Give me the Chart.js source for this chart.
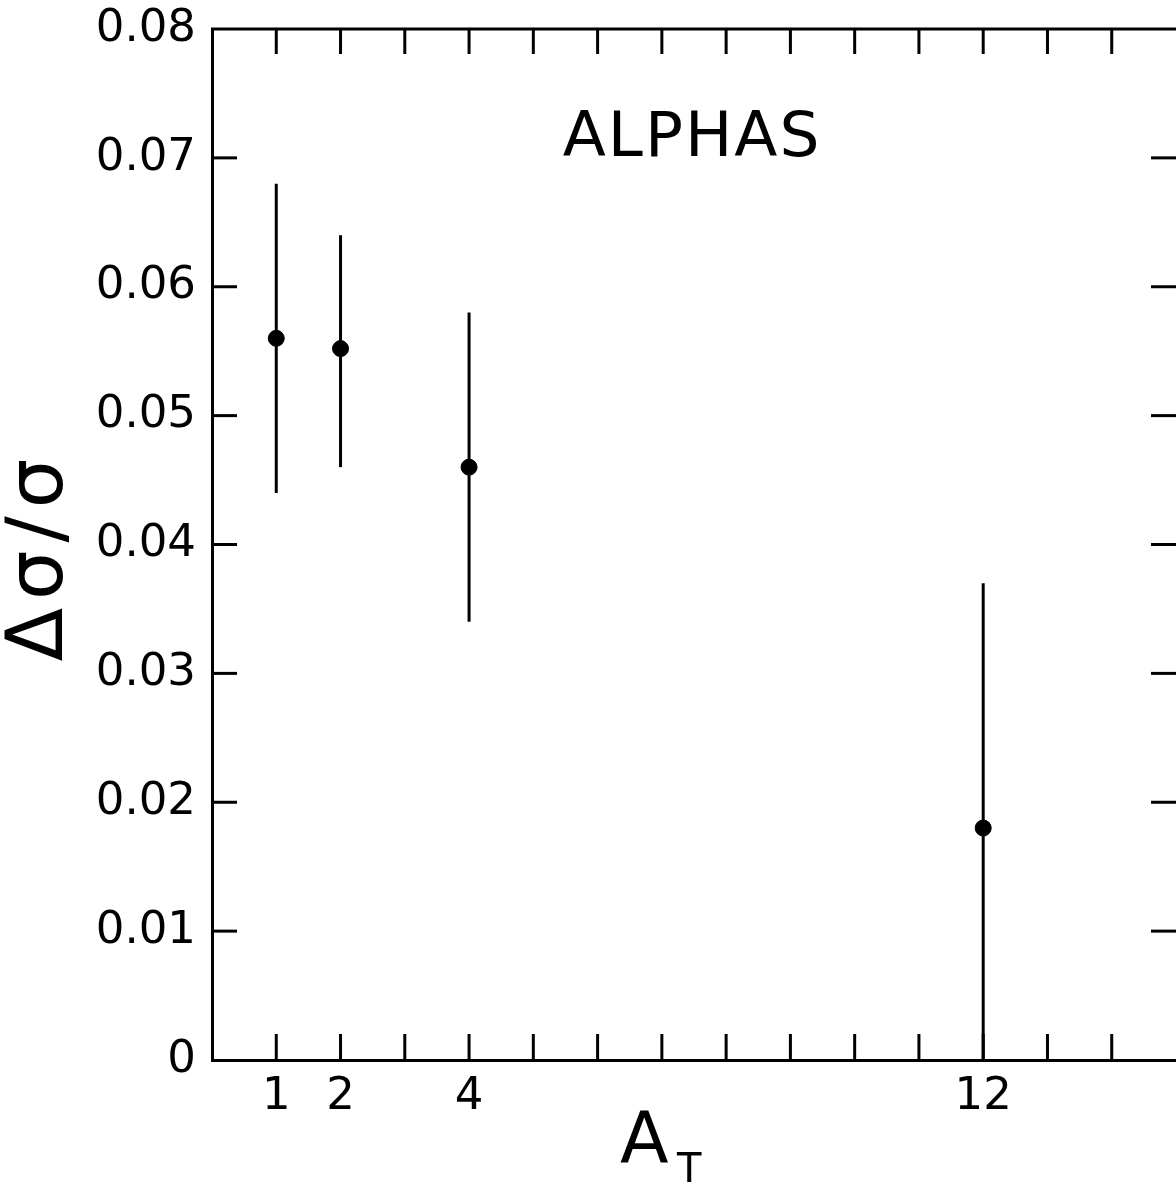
<!DOCTYPE html>
<html>
<head>
	<title>ALPHAS</title>
	<script src="https://cdn.jsdelivr.net/npm/chart.js@4/dist/chart.umd.min.js"></script>
	<style>
		html, body { margin: 0; padding: 0; background: #fff; overflow: hidden; }
		canvas { display: block; }
	</style>
</head>
<body>
	<canvas id="chart" width="1176" height="1186"></canvas>
	<script>
		// data
		var aT = [1, 2, 4, 12];
		var ratio = [0.056, 0.0552, 0.046, 0.018];
		var errLow = [0.044, 0.046, 0.034, 0];
		var errHigh = [0.068, 0.064, 0.058, 0.037];
		var xLabels = [1, 2, 4, 12];
		var xMax = 15;
		var yMax = 0.08;

		var FONT = "'DejaVu Sans', sans-serif";

		function line(ctx, x1, y1, x2, y2) {
			ctx.beginPath();
			ctx.moveTo(x1, y1);
			ctx.lineTo(x2, y2);
			ctx.stroke();
		}

		var frame = {
			id: 'frame',
			beforeDatasetsDraw: function(chart) {
				var ctx = chart.ctx, a = chart.chartArea, x = chart.scales.x, y = chart.scales.y;
				ctx.save();
				ctx.strokeStyle = '#000';
				ctx.lineWidth = 3;
				line(ctx, a.left - 1, a.top, a.right, a.top);
				x.ticks.forEach(function(t) {
					if (t.value <= 0 || t.value >= xMax) return;
					var px = x.getPixelForValue(t.value);
					line(ctx, px, a.top, px, a.top + 25);
					line(ctx, px, a.bottom, px, a.bottom - 26);
				});
				y.ticks.forEach(function(t) {
					if (t.value <= 0 || t.value >= yMax - 1e-9) return;
					var py = y.getPixelForValue(t.value);
					line(ctx, a.left, py, a.left + 25, py);
					line(ctx, a.right, py, a.right - 25, py);
				});
				// error bars
				ctx.lineWidth = 3;
				for (var i = 0; i < aT.length; i++) {
					var px = x.getPixelForValue(aT[i]);
					line(ctx, px, y.getPixelForValue(errLow[i]), px, y.getPixelForValue(errHigh[i]));
				}
				ctx.restore();
			},
			afterDraw: function(chart) {
				var ctx = chart.ctx, x = chart.scales.x, y = chart.scales.y;
				ctx.save();
				ctx.fillStyle = '#000';
				// label inside plot
				ctx.font = '63px ' + FONT;
				ctx.textAlign = 'center';
				ctx.textBaseline = 'middle';
				ctx.letterSpacing = '2px';
				ctx.fillText('ALPHAS', x.getPixelForValue(7.47), y.getPixelForValue(0.0714));
				ctx.letterSpacing = '0px';
				// x title A_T
				ctx.textAlign = 'left';
				ctx.textBaseline = 'alphabetic';
				ctx.font = '71px ' + FONT;
				ctx.fillText('A', 620, 1162);
				ctx.font = '40px ' + FONT;
				ctx.fillText('T', 677, 1182);
				// y title
				ctx.translate(42, 556);
				ctx.rotate(-Math.PI / 2);
				ctx.font = '78px ' + FONT;
				ctx.textAlign = 'center';
				ctx.textBaseline = 'middle';
				ctx.letterSpacing = '8px';
				ctx.fillText('\u0394\u03c3/\u03c3', 0, 0);
				ctx.restore();
			}
		};

		var canvas = document.getElementById('chart').getContext('2d');
		window.plot = new Chart(canvas, {
			type: 'scatter',
			data: {
				datasets: [{
					label: 'ALPHAS',
					data: aT.map(function(v, i) { return { x: v, y: ratio[i] }; }),
					backgroundColor: '#000',
					borderColor: '#000',
					pointRadius: 8,
					pointHoverRadius: 8
				}]
			},
			options: {
				responsive: false,
				animation: false,
				layout: { autoPadding: false, padding: { top: 29, right: 0, left: 0, bottom: 0 } },
				plugins: {
					legend: { display: false },
					tooltip: { enabled: false },
					title: { display: false }
				},
				scales: {
					x: {
						type: 'linear',
						min: 0,
						max: xMax,
						grid: { display: false, drawTicks: false },
						border: { display: true, color: '#000', width: 3 },
						ticks: {
							stepSize: 1,
							autoSkip: false,
							maxRotation: 0,
							padding: 10,
							color: '#000',
							font: { family: FONT, size: 45 },
							callback: function(v) { return xLabels.indexOf(v) >= 0 ? String(v) : ''; }
						},
						afterFit: function(s) { s.height = 126; s.paddingLeft = 0; s.paddingRight = 0; }
					},
					y: {
						min: 0,
						max: yMax,
						grid: { display: false, drawTicks: false },
						border: { display: true, color: '#000', width: 3 },
						ticks: {
							stepSize: 0.01,
							padding: 16,
							color: '#000',
							font: { family: FONT, size: 45 },
							callback: function(v) { return v === 0 ? '0' : v.toFixed(2); }
						},
						afterFit: function(s) { s.width = 212; s.paddingTop = 0; s.paddingBottom = 0; }
					}
				}
			},
			plugins: [frame]
		});
	</script>
</body>
</html>
